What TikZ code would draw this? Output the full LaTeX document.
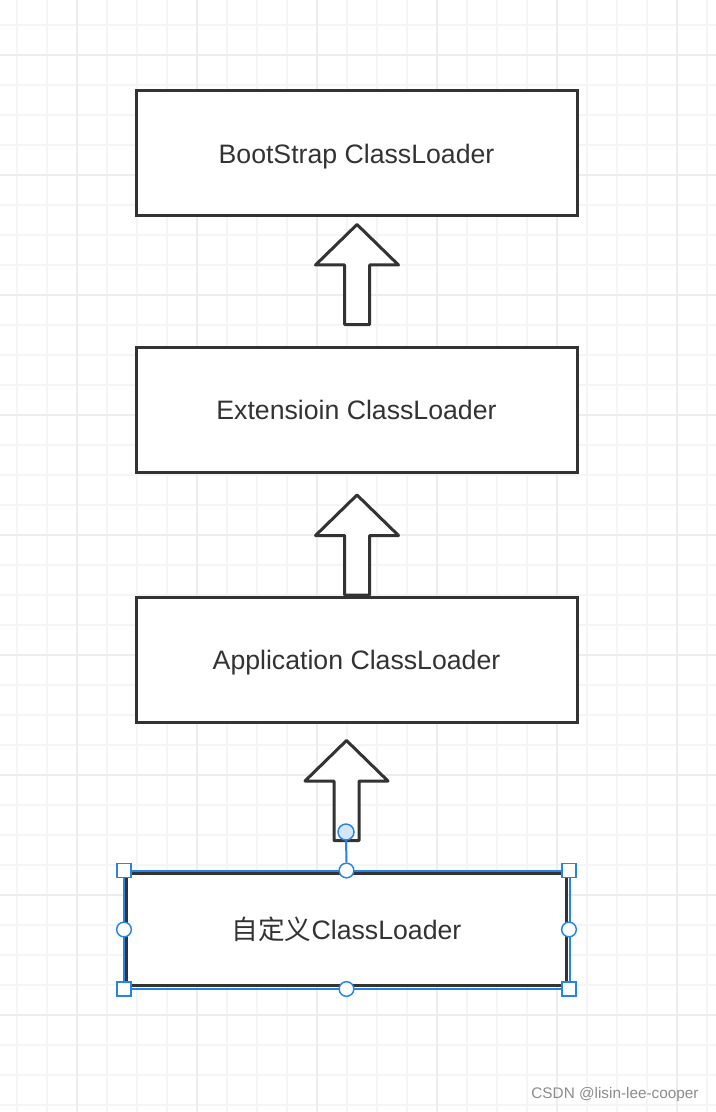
\documentclass[tikz,border=0pt]{standalone}
\usepackage{fontspec}
\setmainfont{Liberation Sans}
\newfontfamily\cjk{Noto Sans CJK SC}
\usepackage{xcolor}
\usetikzlibrary{calc}
\definecolor{ink}{RGB}{51,51,51}
\definecolor{sel}{RGB}{38,132,232}
\definecolor{gminor}{RGB}{245,245,245}
\definecolor{gmajor}{RGB}{237,237,237}
\definecolor{mark}{RGB}{140,140,140}
\tikzset{
  box/.style={draw=ink,line width=2.25pt,fill=white,minimum width=330.75pt,minimum height=93.75pt,inner sep=0pt,text height=14.3pt,text depth=0pt,text=ink,font=\fontsize{20}{24}\selectfont},
  fat/.style={draw=ink,line width=2.25pt,fill=white,line join=round},
  hsq/.style={draw=sel,fill=white,line width=1.1pt,minimum size=10.5pt,inner sep=0pt},
  hci/.style={draw=sel,fill=white,line width=1.1pt,circle,minimum size=11pt,inner sep=0pt},
}
\newcommand{\uparr}[1]{\draw[fat](#1)++(-12.5,0)--++(0,-59.5)--++(-29,0)--++(41.5,-40.5)--++(41.5,40.5)--++(-29,0)--++(0,59.5)--cycle;}
\begin{document}
\begin{tikzpicture}[x=0.75pt,y=-0.75pt]
\useasboundingbox[fill=white](0,0)rectangle(716,1112);
\foreach \x in {17,47,...,707}\draw[gminor,line width=1.3pt](\x,0)--(\x,1112);
\foreach \y in {25,55,...,1105}\draw[gminor,line width=1.3pt](0,\y)--(716,\y);
\foreach \x in {77,197,...,677}\draw[gmajor,line width=1.3pt](\x,0)--(\x,1112);
\foreach \y in {55,175,...,1015}\draw[gmajor,line width=1.3pt](0,\y)--(716,\y);
\node[box](B1)at(356.5,153.5){BootStrap ClassLoader};
\node[box](B2)at(356.5,409.5){Extensioin ClassLoader};
\node[box](B3)at(356.5,659.5){Application ClassLoader};
\node[box,minimum width=330pt,minimum height=84pt](B4)at(346.5,929.5){{\cjk 自定义}ClassLoader};
\coordinate(A1)at(357,324.5);
\coordinate(A2)at(357,595);
\coordinate(A3)at(346.5,840.5);
\uparr{A1}
\uparr{A2}
\uparr{A3}
\draw[sel,line width=1.5pt]($(B4.north west)+(-1.5,-1.5)$)rectangle($(B4.south east)+(1.5,1.5)$);
\node[hsq](H1)at($(B4.north west)+(-1,-1.5)$){};
\node[hsq](H2)at($(B4.north east)+(1,-1.5)$){};
\node[hsq](H3)at($(B4.south west)+(-1,2)$){};
\node[hsq](H4)at($(B4.south east)+(1,2)$){};
\node[hci](HT)at($(B4.north)+(0,-1.5)$){};
\node[hci](HB)at($(B4.south)+(0,2)$){};
\node[hci](HL)at($(B4.west)+(-1,0)$){};
\node[hci](HR)at($(B4.east)+(1,0)$){};
\node[hci,fill=sel!20,minimum size=12pt](R)at(346,832){};
\draw[sel,line width=1.5pt](R)--(HT);
\node[text=mark,font=\fontsize{11.5}{14}\selectfont](W)at(615,1095){CSDN @lisin-lee-cooper};
\end{tikzpicture}
\end{document}
